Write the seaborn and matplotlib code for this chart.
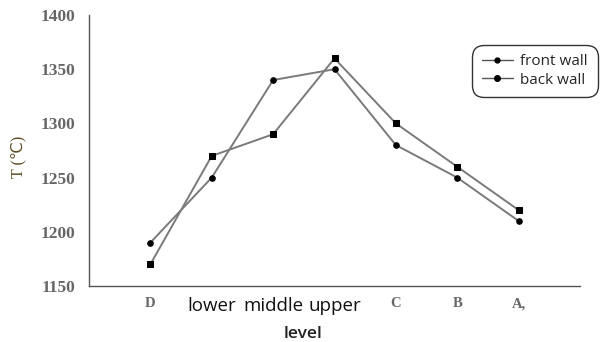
import matplotlib
matplotlib.use("Agg")
import matplotlib.pyplot as plt
import matplotlib.transforms as mtransforms
import seaborn as sns
import pandas as pd

levels = ["D", "lower", "middle", "upper", "C", "B", "A,"]
front_wall = [1190, 1250, 1340, 1350, 1280, 1250, 1210]
back_wall = [1170, 1270, 1290, 1360, 1300, 1260, 1220]
series_names = ["front wall", "back wall"]
y_ticks = [1150, 1200, 1250, 1300, 1350, 1400]

sns.set_theme(style="white")
plt.rcParams['font.family'] = ['DejaVu Sans']

df = pd.DataFrame({
    "level": levels * 2,
    "T": front_wall + back_wall,
    "series": [series_names[0]] * len(levels) + [series_names[1]] * len(levels),
})

fig = plt.figure(figsize=(6.08, 3.42), dpi=100)
ax = fig.add_axes([89/608, 56/342, (580-89)/608, (286-15)/342])

sns.lineplot(data=df, x="level", y="T", hue="series", style="series",
             markers={"front wall": "o", "back wall": "s"}, dashes=False,
             palette={"front wall": "#7a7a7a", "back wall": "#7a7a7a"},
             linewidth=1.4, markersize=5, markeredgecolor="black",
             markerfacecolor="black", sort=False, ax=ax, legend=False)
for line, ms in zip(ax.lines, [4, 5]):
    line.set_markersize(ms)
    line.set_markerfacecolor("black")
    line.set_markeredgecolor("black")

ax.set_xlim(-1, 7)
ax.set_ylim(1150, 1400)
ax.set_yticks(y_ticks)
ax.set_xticks(range(len(levels)))
ax.set_xticks([7], minor=True)
ax.set_xticklabels(levels)

offsets = {"lower": -2, "middle": 3, "upper": 7}
for lab, name in zip(ax.get_xticklabels(), levels):
    if name in ("lower", "middle", "upper"):
        lab.set_fontfamily("Open Sans")
        lab.set_fontsize(13.5)
        lab.set_color("#111111")
        lab.set_transform(lab.get_transform() + mtransforms.ScaledTranslation(offsets[name]/100, 0, fig.dpi_scale_trans))
    else:
        lab.set_fontfamily("Liberation Serif")
        lab.set_fontsize(10.5)
        lab.set_color("#666666")
        lab.set_fontweight("bold")
        lab.set_transform(lab.get_transform() + mtransforms.ScaledTranslation(0, -2/100, fig.dpi_scale_trans))
for lab in ax.get_yticklabels():
    lab.set_fontfamily("Liberation Serif")
    lab.set_fontsize(12.5)
    lab.set_fontweight("bold")
    lab.set_color("#666666")

ax.tick_params(axis="x", which="both", direction="in", length=3, color="#777777", pad=8)
ax.tick_params(axis="y", direction="out", length=3, color="#777777", pad=7)

for s in ["top", "right"]:
    ax.spines[s].set_visible(False)
for s in ["left", "bottom"]:
    ax.spines[s].set_color("#555555")
    ax.spines[s].set_linewidth(1.0)

ax.set_xlabel("level", fontsize=12.5, color="#222222", fontfamily="Open Sans", fontweight="semibold")
ax.xaxis.set_label_coords((303 - 89) / (580 - 89), -(334 - 286) / (286 - 15))
ax.xaxis.label.set_va("center")
ax.set_ylabel("T (\u2103)", fontsize=11.5, color="#5a4a20",
              fontfamily=["Liberation Serif", "DejaVu Sans"])
ax.yaxis.set_label_coords(-(89 - 18) / (580 - 89), (286 - 157) / (286 - 15))
ax.yaxis.label.set_va("center")

handles = [
    plt.Line2D([], [], color="#555555", marker="o", markersize=3.5, markerfacecolor="black", markeredgecolor="black", lw=1),
    plt.Line2D([], [], color="#555555", marker="o", markersize=4, markerfacecolor="black", markeredgecolor="black", lw=1),
]
leg = fig.legend(handles, series_names, loc="center", bbox_to_anchor=(535/608, 1 - 71/342),
                 frameon=True, fancybox=True, handlelength=2.0,
                 handletextpad=0.5, labelspacing=0.2, borderpad=0.45,
                 prop={"family": "Open Sans", "size": 11})
leg.get_frame().set_edgecolor("black")
leg.get_frame().set_linewidth(1.0)
leg.get_frame().set_boxstyle("round", pad=0.2, rounding_size=0.8)

fig.savefig("out.png", dpi=100)
